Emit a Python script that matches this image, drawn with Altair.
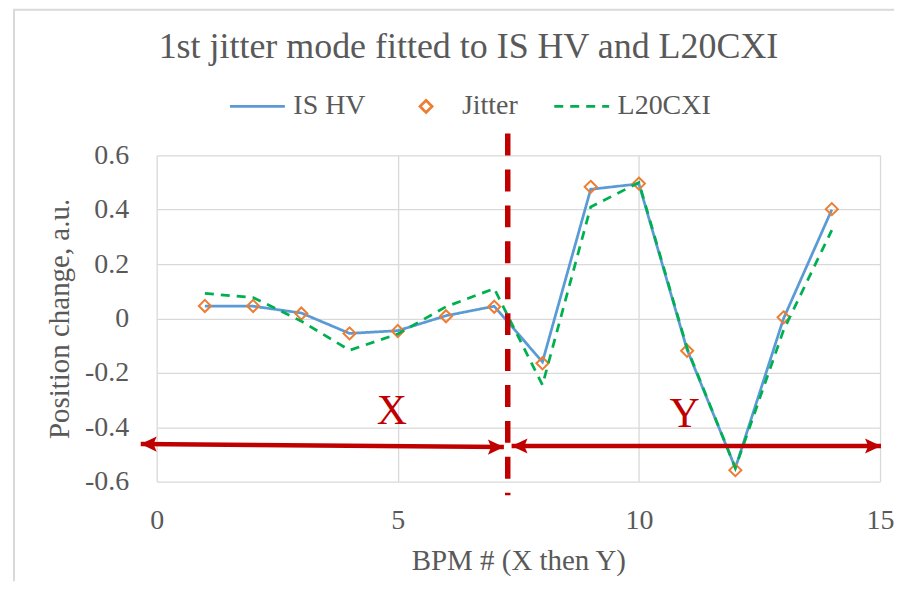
import altair as alt
import pandas as pd

# ---- data ----
bpm = list(range(1, 15))
is_hv = [0.045, 0.045, 0.02, -0.055, -0.045, 0.01, 0.045, -0.16, 0.475, 0.495, -0.115, -0.55, 0.0, 0.40]
jitter = [0.046, 0.046, 0.018, -0.055, -0.046, 0.008, 0.043, -0.165, 0.484, 0.496, -0.119, -0.558, 0.004, 0.402]
l20cxi = [0.092, 0.077, -0.01, -0.117, -0.057, 0.043, 0.11, -0.245, 0.41, 0.50, -0.11, -0.55, -0.043, 0.325]

series_names = ["IS HV", "Jitter", "L20CXI"]
series_colors = ["#5b9bd5", "#ed7d31", "#00b050"]
series_dash = [[1, 0], [1, 0], [9, 7]]
series_shape = ["stroke", "M0,-0.22L0.22,0L0,0.22L-0.22,0Z", "stroke"]

x_ticks = [0, 5, 10, 15]
y_ticks = [-0.6, -0.4, -0.2, 0, 0.2, 0.4, 0.6]

# annotations
divider_x = [7.28, 7.28]
divider_y = [0.68, -0.65]
region_labels = ["X", "Y"]
region_label_x = [4.88, 10.95]
region_label_y = [-0.389, -0.40]
arrow_x1 = [-0.33, 7.36]
arrow_x2 = [7.2, 15.02]
arrow_y1 = [-0.462, -0.469]
arrow_y2 = [-0.473, -0.469]

FONT = "Liberation Serif"
TXT = "#595959"
GRID = "#d9d9d9"
RED = "#c00000"

df = pd.DataFrame({
    "bpm": bpm * 3,
    "value": is_hv + jitter + l20cxi,
    "series": ["IS HV"] * len(bpm) + ["Jitter"] * len(bpm) + ["L20CXI"] * len(bpm),
})

xs = alt.Scale(domain=[0, 15], nice=False, zero=False)
ys = alt.Scale(domain=[-0.6, 0.6], nice=False, zero=False)

x_axis = alt.Axis(values=x_ticks, title="BPM # (X then Y)", grid=True, gridColor=GRID, gridWidth=1.3,
                  domain=False, ticks=False, tickSize=0, labelFont=FONT, labelFontSize=28, labelColor=TXT,
                  labelPadding=25, labelFlush=False, labelOverlap=False, labelBound=False,
                  titleFont=FONT, titleFontSize=29, titleColor=TXT, titleFontWeight="normal",
                  titleX=362.5, titleY=88, titleBaseline="alphabetic")
y_axis = alt.Axis(values=y_ticks, title="Position change, a.u.", grid=True, gridColor=GRID, gridWidth=1.3,
                  domain=False, ticks=False, tickSize=0, labelFont=FONT, labelFontSize=28, labelColor=TXT,
                  labelPadding=28, labelFlush=False, labelOverlap=False, labelBound=False,
                  labelExpr="round(datum.value*10)/10 + ''",
                  titleFont=FONT, titleFontSize=29, titleColor=TXT, titleFontWeight="normal",
                  titleX=-97, titleY=163.5, titleBaseline="middle", titleAngle=270)

leg = alt.Legend(orient="none", legendX=72, legendY=-78, direction="horizontal", title=None,
                 symbolSize=3025, symbolStrokeWidth=2.75, labelFont=FONT, labelFontSize=28,
                 labelColor=TXT, labelOffset=7, columnPadding=31, padding=0)

color = alt.Color("series:N", scale=alt.Scale(domain=series_names, range=series_colors), legend=leg)
dash = alt.StrokeDash("series:N", scale=alt.Scale(domain=series_names, range=series_dash), legend=leg)
shape = alt.Shape("series:N", scale=alt.Scale(domain=series_names, range=series_shape), legend=leg)

base = alt.Chart(df).encode(
    x=alt.X("bpm:Q", scale=xs, axis=x_axis),
    y=alt.Y("value:Q", scale=ys, axis=y_axis),
)

blue = base.transform_filter(alt.datum.series == "IS HV").mark_line(strokeWidth=2.75).encode(
    color=color, strokeDash=dash)
green = base.transform_filter(alt.datum.series == "L20CXI").mark_line(strokeWidth=2.75).encode(
    color=color, strokeDash=dash)
pts = base.transform_filter(alt.datum.series == "Jitter").mark_point(
    filled=False, size=3025, strokeWidth=2, opacity=1).encode(color=color, shape=shape)

# divider
div_df = pd.DataFrame({"x": divider_x, "y": divider_y})
divider = alt.Chart(div_df).mark_line(color=RED, strokeWidth=5.5, strokeDash=[22, 14], clip=False).encode(
    x=alt.X("x:Q", scale=xs), y=alt.Y("y:Q", scale=ys))

arr_df = pd.DataFrame({"x1": arrow_x1, "x2": arrow_x2, "y1": arrow_y1, "y2": arrow_y2})
arrows = alt.Chart(arr_df).mark_rule(color=RED, strokeWidth=4.5, clip=False).encode(
    x=alt.X("x1:Q", scale=xs), x2="x2:Q", y=alt.Y("y1:Q", scale=ys), y2="y2:Q")

left_head = "M0,0L2,-0.95L1.6,0L2,0.95Z"
right_head = "M0,0L-2,-0.95L-1.6,0L-2,0.95Z"
head_df = pd.DataFrame({
    "x": arrow_x1 + arrow_x2,
    "y": arrow_y1 + arrow_y2,
    "shape": [left_head, left_head, right_head, right_head],
})
heads = alt.Chart(head_df).mark_point(filled=True, color=RED, size=256, opacity=1, clip=False).encode(
    x=alt.X("x:Q", scale=xs), y=alt.Y("y:Q", scale=ys), shape=alt.Shape("shape:N", scale=None, legend=None))

lab_df = pd.DataFrame({"x": region_label_x, "y": region_label_y, "t": region_labels})
labels = alt.Chart(lab_df).mark_text(font=FONT, fontSize=42, color=RED, baseline="alphabetic", align="center").encode(
    x=alt.X("x:Q", scale=xs), y=alt.Y("y:Q", scale=ys), text="t:N")

# chart-area frame (decorative border, as in the spreadsheet chart)
frame_left = alt.Chart(pd.DataFrame({"k": [0]})).mark_rule(color="#d9d9d9", strokeWidth=2, clip=False).encode(
    x=alt.value(-143), y=alt.value(-146), y2=alt.value(427))
frame_top = alt.Chart(pd.DataFrame({"k": [0]})).mark_rule(color="#d9d9d9", strokeWidth=2, clip=False).encode(
    x=alt.value(-144), x2=alt.value(739), y=alt.value(-146))

chart = alt.layer(frame_left, frame_top, blue, pts, green, arrows, heads, divider, labels).properties(
    width=725, height=327,
    autosize=alt.AutoSizeParams(type="none"),
    padding={"left": 149, "top": 147, "right": 14, "bottom": 100},
    title=alt.TitleParams("1st jitter mode fitted to IS HV and L20CXI", font=FONT, fontSize=36,
                          color=TXT, fontWeight="normal", anchor="middle", frame="group",
                          dx=-50, dy=57, offset=0),
).configure_view(stroke=None)

chart.save("out.html", embed_options={"renderer": "svg", "actions": False})
